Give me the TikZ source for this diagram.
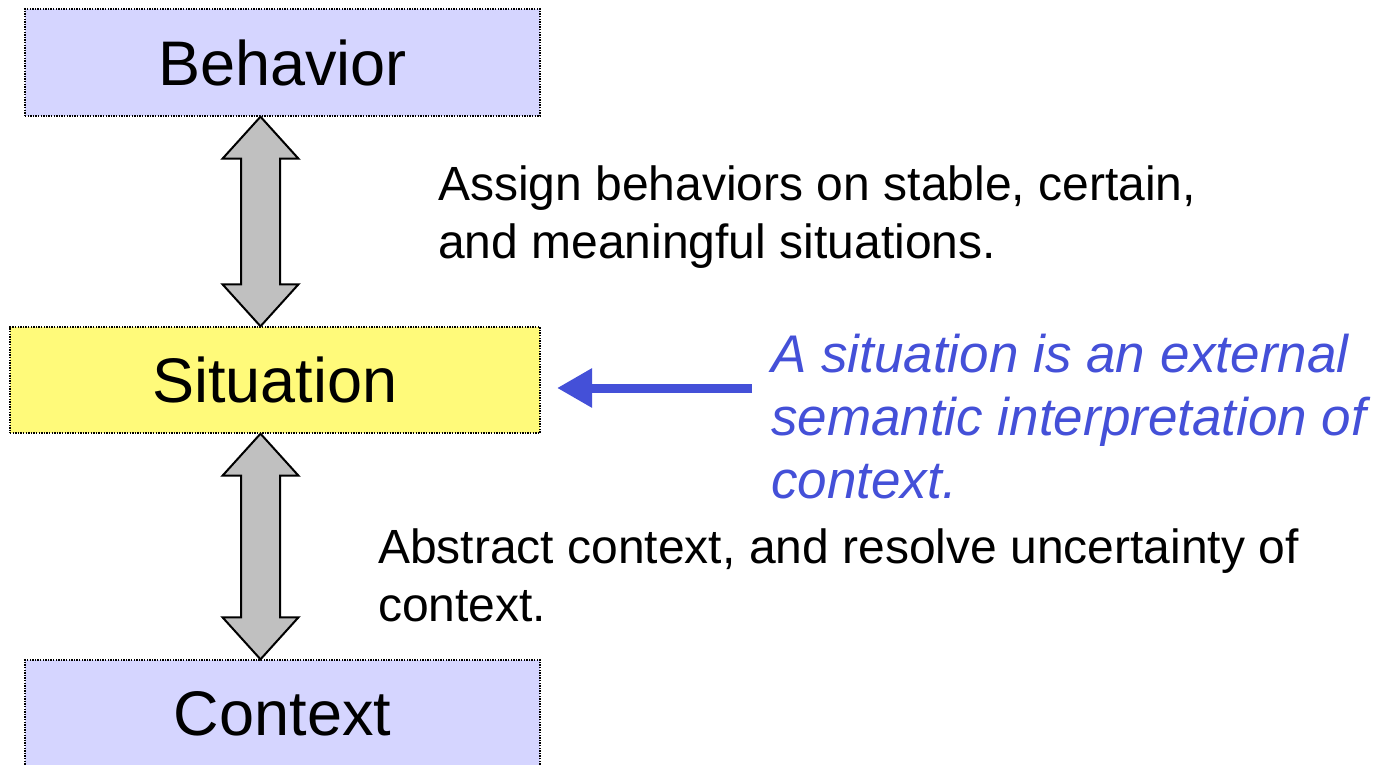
\documentclass[tikz,border=0pt]{standalone}
\usepackage{fontspec}
\setmainfont{Liberation Sans}
\usetikzlibrary{calc,arrows.meta}
\definecolor{boxblue}{RGB}{213,213,255}
\definecolor{boxyellow}{RGB}{255,250,122}
\definecolor{notec}{RGB}{68,80,216}
\definecolor{arrgray}{RGB}{192,192,192}
\tikzset{
  box/.style={draw=black, line width=1.4pt, dash pattern=on 1.4pt off 1.2pt,
    inner sep=0pt, font=\fontsize{63}{75}\selectfont},
  dblarrow/.style={draw=black, fill=arrgray, line width=2pt, line join=miter},
  desc/.style={inner sep=0pt, align=left, anchor=base west, font=\fontsize{48}{58}\selectfont},
  note/.style={inner sep=0pt, align=left, anchor=base west, text=notec,
    font=\fontsize{53}{63}\selectfont\itshape},
  notearrow/.style={draw=notec, line width=9pt, -{Triangle[length=35pt,width=37pt]}}
}
\newcommand\dblarr[2]{%
  \draw[dblarrow] let \p1=(#1), \p2=(#2) in
    (\x1,\y1) -- (\x1+38pt,\y1-42pt) -- (\x1+19.5pt,\y1-42pt)
    -- (\x2+19.5pt,\y2+42pt) -- (\x2+38pt,\y2+42pt) -- (\x2,\y2)
    -- (\x2-38pt,\y2+42pt) -- (\x2-19.5pt,\y2+42pt)
    -- (\x1-19.5pt,\y1-42pt) -- (\x1-38pt,\y1-42pt) -- cycle;}
\begin{document}
\begin{tikzpicture}[x=1pt,y=-1pt]
\useasboundingbox (0,0) rectangle (1383,765);
\node[box, fill=boxblue, minimum width=515pt, minimum height=107pt] (beh) at (282.5,62.5) {Behavior};
\node[box, fill=boxyellow, minimum width=530pt, minimum height=106pt] (sit) at (275,380) {Situation};
\node[box, fill=boxblue, minimum width=515pt, minimum height=107pt] (ctx) at (282.5,713.5) {Context};
\coordinate (t1) at ($(beh.south)+(-22pt,0)$);
\coordinate (b1) at ($(sit.north)+(-14.5pt,0)$);
\coordinate (t2) at ($(sit.south)+(-14.5pt,0)$);
\coordinate (b2) at ($(ctx.north)+(-22pt,0)$);
\dblarr{t1}{b1}
\dblarr{t2}{b2}
\node[desc] (d1) at (438,258) {Assign behaviors on stable, certain,\\and meaningful situations.};
\node[desc] (d2) at (378,621) {Abstract context, and resolve uncertainty of\\context.};
\node[note] (n1) at (771,498) {A situation is an external\\semantic interpretation of\\context.};
\coordinate (as) at (752,388);
\coordinate (ae) at (557,388);
\draw[notearrow] (as) -- (ae);
\end{tikzpicture}
\end{document}
